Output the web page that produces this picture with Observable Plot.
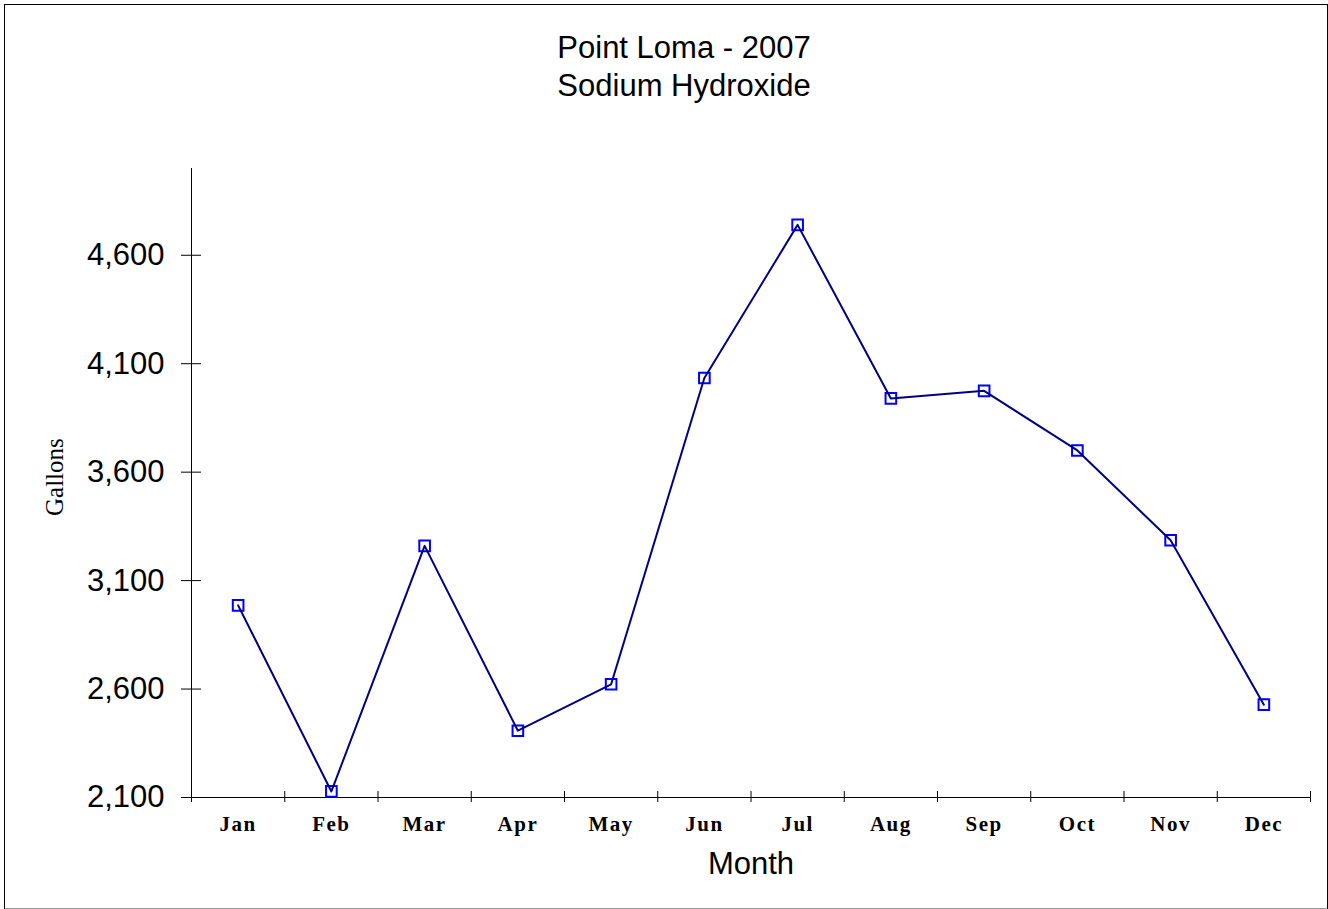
<!DOCTYPE html>
<html>
<head>
<meta charset="utf-8">
<script src="https://cdn.jsdelivr.net/npm/d3@7"></script>
<script src="https://cdn.jsdelivr.net/npm/@observablehq/plot@0.6"></script>
<style>
  html, body { margin: 0; padding: 0; background: #fff; }
  #page { position: relative; width: 1328px; height: 909px; overflow: hidden; background: #fff; }
  #border {
    position: absolute; left: 4px; top: 4px; width: 1322px; height: 903px;
    border: 1px solid #000; border-bottom: 2px solid #999; box-sizing: content-box;
  }
  #title {
    position: absolute; left: 484px; top: 29px; width: 400px; text-align: center;
    font-family: "Liberation Sans", Arial, sans-serif; font-size: 31px; line-height: 38px; color: #000;
  }
  #chart { position: absolute; left: 0; top: 120px; }
  #chart g[aria-label="x-axis tick label"] text { letter-spacing: 1.5px; }
</style>
</head>
<body>
<div id="page">
  <div id="border"></div>
  <div id="title">Point Loma - 2007<br>Sodium Hydroxide</div>
  <div id="chart"></div>
</div>
<script>
// Monthly sodium hydroxide usage at Point Loma, 2007 (gallons)
const months = ["Jan", "Feb", "Mar", "Apr", "May", "Jun", "Jul", "Aug", "Sep", "Oct", "Nov", "Dec"];
const gallons = [2986, 2128, 3260, 2408, 2622, 4034, 4740, 3940, 3975, 3700, 3286, 2528];
const yTicks = [2100, 2600, 3100, 3600, 4100, 4600];
const yDomain = [2100, 5000];

// Each month sits in the middle of its slot; slot boundaries carry the tick marks.
const data = months.map((m, i) => ({month: m, pos: i + 0.5, value: gallons[i]}));
const slotEdges = d3.range(months.length + 1);
const slotMids = data.map(d => d.pos);

const sans = "'Liberation Sans', Arial, sans-serif";
const serif = "'Liberation Serif', 'Times New Roman', serif";

const chart = Plot.plot({
  width: 1328,
  height: 789,
  marginLeft: 191,
  marginRight: 18,
  marginTop: 48,
  marginBottom: 112,
  style: {background: "transparent", color: "#000", fontFamily: sans, overflow: "visible"},
  x: {type: "linear", domain: [0, months.length], axis: null},
  y: {domain: yDomain, axis: null},
  marks: [
    // axis lines
    Plot.ruleX([0], {stroke: "#000", strokeWidth: 1}),
    Plot.ruleY([yDomain[0]], {stroke: "#000", strokeWidth: 1}),
    // y ticks crossing the axis line
    Plot.axisY({ticks: yTicks, tickSize: 20, dx: 10, tickFormat: () => "", label: null, stroke: "#000"}),
    // y tick labels
    Plot.axisY({ticks: yTicks, tickSize: 0, tickPadding: 27, tickFormat: d3.format(","), label: null,
      fontSize: 31, fontFamily: sans, fill: "#000"}),
    // x ticks at slot edges, crossing the axis line
    Plot.axisX({ticks: slotEdges, tickSize: 11, dy: -6, tickFormat: () => "", label: null, stroke: "#000"}),
    // month labels
    Plot.axisX({ticks: slotMids, tickSize: 0, tickPadding: 19, tickFormat: p => months[Math.floor(p)], label: null,
      fontSize: 21, fontFamily: serif, fontWeight: "bold", fill: "#000"}),
    // axis titles
    Plot.text(["Gallons"], {frameAnchor: "left", dx: -137, dy: 33, rotate: -90, fontSize: 25, fontFamily: serif, fill: "#000"}),
    Plot.text(["Month"], {frameAnchor: "bottom", dy: 76, fontSize: 31, fontFamily: sans, fill: "#000"}),
    // series
    Plot.dot(data, {x: "pos", y: "value", symbol: "square", r: 6, fill: "none", stroke: "#0000ff", strokeWidth: 2}),
    Plot.line(data, {x: "pos", y: "value", stroke: "#000080", strokeWidth: 2})
  ]
});
document.getElementById("chart").appendChild(chart);
</script>
</body>
</html>
